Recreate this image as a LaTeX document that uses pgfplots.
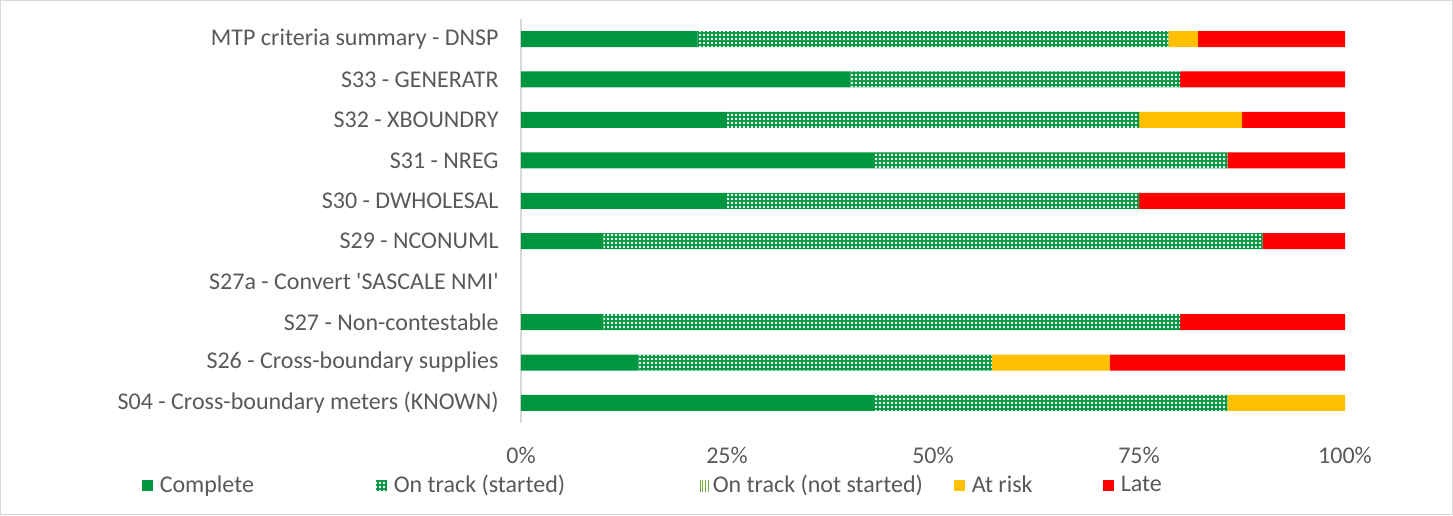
\documentclass[border=0pt]{standalone}
\usepackage{fontspec}
\setmainfont{Carlito}
\usepackage{pgfplots}
\pgfplotsset{compat=1.18}
\usepackage{pgfplotstable}
\usetikzlibrary{patterns.meta}
\definecolor{cgreen}{RGB}{0,150,64}
\definecolor{lgreen}{RGB}{112,173,71}
\definecolor{cyellow}{RGB}{255,192,0}
\definecolor{cred}{RGB}{255,0,0}
\definecolor{txt}{RGB}{89,89,89}
\definecolor{frame}{RGB}{217,217,217}
\pgfplotstableread{
idx complete ontrack atrisk late
0 42.857 42.857 14.286 0
1 14.286 42.857 14.286 28.571
2 10 70 0 20
3 0 0 0 0
4 10 80 0 10
5 25 50 0 25
6 42.857 42.857 0 14.286
7 25 50 12.5 12.5
8 40 40 0 20
9 21.43 57.14 3.57 17.86
}\data
\begin{document}
\fontsize{12}{14}\selectfont
\begin{tikzpicture}
\useasboundingbox (0,0) rectangle (726.5pt,257.5pt);
\draw[frame,line width=0.6pt] (0.3pt,0.3pt) rectangle (726.2pt,257.2pt);
\begin{axis}[
  at={(260.5pt,45.9pt)}, anchor=south west,
  scale only axis, width=412pt, height=202.2pt,
  xbar stacked, bar width=8pt,
  xmin=0, xmax=100, ymin=-0.5, ymax=9.5,
  separate axis lines,
  axis x line*=bottom, axis y line*=left,
  x axis line style={draw=none},
  y axis line style={draw=frame, line width=0.8pt},
  tick style={draw=none},
  xtick={0,25,50,75,100},
  xticklabels={0\%,25\%,50\%,75\%,100\%},
  xticklabel shift=8pt,
  ytick={0,...,9},
  yticklabels={S04 - Cross-boundary meters (KNOWN),S26 - Cross-boundary supplies,S27 - Non-contestable,S27a - Convert \textquotesingle SASCALE NMI\textquotesingle,S29 - NCONUML,S30 - DWHOLESAL,S31 - NREG,S32 - XBOUNDRY,S33 - GENERATR,MTP criteria summary - DNSP},
  yticklabel shift=7pt,
  ticklabel style={text=txt, font=\fontsize{12}{14}\selectfont},
  legend columns=5,
  legend style={at={(-0.468,-0.155)}, anchor=west, draw=none, fill=none,
    font=\fontsize{12}{14}\selectfont, text=txt,
    /tikz/every even column/.append style={column sep=0pt},
    nodes={inner sep=1.5pt}},
  legend cell align=left,
  legend image code/.code={\fill[#1] (0pt,-2.75pt) rectangle (5.5pt,2.75pt);},
]
\addplot[fill=cgreen, draw=none] table[x=complete,y=idx]{\data};
\addlegendentry{\makebox[108.5pt][l]{\hspace{2pt}Complete}}
\addplot[fill=cgreen, draw=none, postaction={pattern={Dots[distance=2pt,radius=0.65pt]}, pattern color=white}] table[x=ontrack,y=idx]{\data};
\addlegendentry{\makebox[153pt][l]{\hspace{2pt}On track (started)}}
\addlegendimage{fill=white, draw=none, postaction={pattern={Lines[angle=90,distance=1.4pt,line width=0.5pt]}, pattern color=lgreen}}
\addlegendentry{\makebox[119pt][l]{On track (not started)}}
\addplot[fill=cyellow, draw=none] table[x=atrisk,y=idx]{\data};
\addlegendentry{\makebox[66pt][l]{\hspace{2pt}At risk}}
\addplot[fill=cred, draw=none] table[x=late,y=idx]{\data};
\addlegendentry{\hspace{2pt}Late}
\end{axis}
\end{tikzpicture}
\end{document}
